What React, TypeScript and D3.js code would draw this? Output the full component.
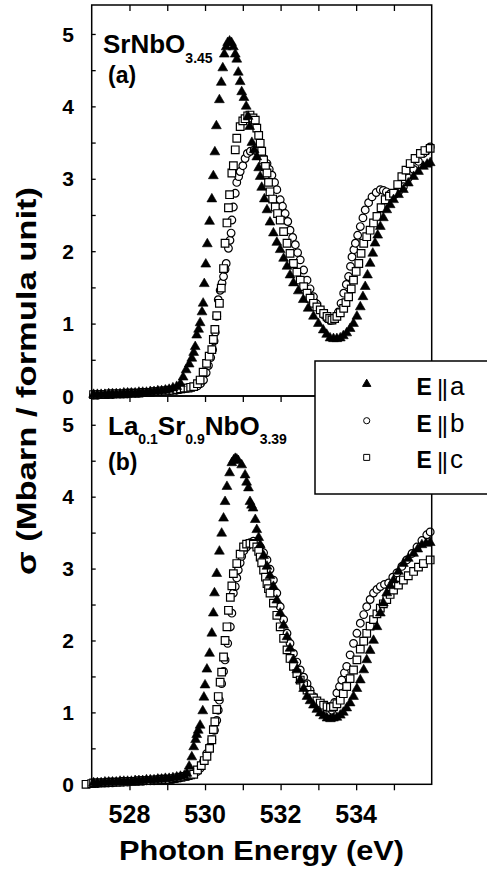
import React, { useEffect, useRef } from "react";
import * as d3 from "d3";

// photon energy / cross section pairs
type Pt = [number, number];

const flatE = [527.05, 527.15, 527.25, 527.35, 527.45, 527.55, 527.65, 527.75, 527.85, 527.95, 528.05, 528.15,
  528.25, 528.35, 528.45, 528.55, 528.65, 528.75, 528.85, 528.95, 529.05, 529.15, 529.25, 529.35];

const topFlatA = [0.02, 0.02, 0.02, 0.02, 0.03, 0.03, 0.03, 0.03, 0.04, 0.04, 0.04, 0.04, 0.05, 0.05, 0.05, 0.06,
  0.06, 0.07, 0.07, 0.08, 0.09, 0.11, 0.13, 0.17];
const topFlatB = [0.01, 0.01, 0.02, 0.02, 0.02, 0.02, 0.03, 0.03, 0.03, 0.03, 0.04, 0.04, 0.04, 0.05, 0.05, 0.05,
  0.06, 0.06, 0.06, 0.07, 0.07, 0.08, 0.08, 0.09];
const topFlatC = [0.02, 0.02, 0.02, 0.02, 0.03, 0.03, 0.03, 0.03, 0.03, 0.04, 0.04, 0.04, 0.04, 0.05, 0.05, 0.05,
  0.06, 0.06, 0.07, 0.07, 0.08, 0.08, 0.09, 0.1];
const botFlatA = [0.02, 0.02, 0.02, 0.03, 0.03, 0.03, 0.03, 0.04, 0.04, 0.04, 0.04, 0.05, 0.05, 0.05, 0.06, 0.06,
  0.06, 0.07, 0.07, 0.08, 0.08, 0.09, 0.1, 0.11];
const botFlatB = [0.01, 0.01, 0.02, 0.02, 0.02, 0.02, 0.03, 0.03, 0.03, 0.03, 0.04, 0.04, 0.04, 0.04, 0.05, 0.05,
  0.05, 0.06, 0.06, 0.06, 0.07, 0.07, 0.08, 0.09];
const botFlatC = [0.02, 0.02, 0.02, 0.02, 0.03, 0.03, 0.03, 0.03, 0.04, 0.04, 0.04, 0.04, 0.05, 0.05, 0.05, 0.05,
  0.06, 0.06, 0.07, 0.07, 0.07, 0.08, 0.09, 0.1];

// (a) SrNbO3.45
const topRiseA: Pt[] = [[529.42, 0.26], [529.5, 0.36], [529.58, 0.44], [529.65, 0.52], [529.7, 0.6], [529.74, 0.68],
  [529.78, 0.84], [529.83, 0.92], [529.87, 1.01], [529.92, 1.16], [529.95, 1.28], [529.98, 1.55], [530.02, 1.82],
  [530.06, 2.1], [530.12, 2.41], [530.18, 2.72], [530.22, 3.04], [530.26, 3.37], [530.3, 3.73], [530.38, 4.09],
  [530.43, 4.33], [530.47, 4.53], [530.51, 4.72], [530.56, 4.82], [530.6, 4.88], [530.65, 4.9], [530.7, 4.88],
  [530.75, 4.82], [530.8, 4.72], [530.84, 4.65], [530.88, 4.47], [530.93, 4.34], [530.97, 4.2], [531.03, 4.12],
  [531.09, 4.0], [531.14, 3.86], [531.18, 3.72], [531.24, 3.5], [531.3, 3.4], [531.37, 3.3], [531.42, 3.15],
  [531.46, 3.03], [531.5, 2.88], [531.57, 2.72], [531.64, 2.57], [531.72, 2.4], [531.81, 2.25], [531.9, 2.12],
  [531.99, 2.02], [532.08, 1.9], [532.17, 1.79], [532.25, 1.67], [532.34, 1.56], [532.47, 1.45], [532.6, 1.33],
  [532.73, 1.21], [532.87, 1.1], [533.0, 1.0], [533.13, 0.91], [533.22, 0.85], [533.31, 0.8], [533.4, 0.79],
  [533.49, 0.79], [533.58, 0.8], [533.66, 0.83], [533.75, 0.87], [533.84, 0.93], [533.93, 1.0], [534.02, 1.1],
  [534.11, 1.23], [534.18, 1.37], [534.24, 1.51], [534.3, 1.67], [534.37, 1.83], [534.44, 1.97], [534.5, 2.11],
  [534.57, 2.22], [534.64, 2.34], [534.72, 2.46], [534.81, 2.57], [534.9, 2.64], [534.99, 2.71], [535.12, 2.78],
  [535.25, 2.85], [535.38, 2.94], [535.52, 3.03], [535.65, 3.1], [535.78, 3.17], [535.88, 3.2], [535.96, 3.22]];

const topRiseB: Pt[] = [[529.45, 0.1], [529.55, 0.11], [529.65, 0.12], [529.72, 0.13], [529.8, 0.14], [529.88, 0.17],
  [529.96, 0.22], [530.03, 0.32], [530.09, 0.42], [530.15, 0.53], [530.2, 0.64], [530.24, 0.76], [530.27, 0.88],
  [530.31, 1.1], [530.35, 1.33], [530.4, 1.46], [530.45, 1.56], [530.49, 1.65], [530.53, 1.75], [530.56, 1.83],
  [530.62, 2.04], [530.66, 2.15], [530.69, 2.25], [530.71, 2.43], [530.75, 2.61], [530.8, 2.8], [530.84, 2.95],
  [530.89, 3.03], [530.93, 3.1], [531.0, 3.18], [531.06, 3.28], [531.12, 3.35], [531.2, 3.38], [531.3, 3.4],
  [531.38, 3.38], [531.46, 3.35], [531.55, 3.28], [531.64, 3.21], [531.7, 3.13], [531.77, 3.05], [531.84, 2.95],
  [531.9, 2.85], [531.99, 2.71], [532.05, 2.62], [532.12, 2.52], [532.19, 2.41], [532.25, 2.29], [532.32, 2.19],
  [532.39, 2.09], [532.45, 1.98], [532.52, 1.88], [532.61, 1.74], [532.7, 1.6], [532.78, 1.48], [532.87, 1.37],
  [532.96, 1.27], [533.05, 1.19], [533.14, 1.12], [533.23, 1.07], [533.32, 1.04], [533.4, 1.05], [533.47, 1.1],
  [533.53, 1.16], [533.6, 1.28], [533.67, 1.42], [533.74, 1.54], [533.8, 1.65], [533.85, 1.79], [533.89, 1.92],
  [533.94, 2.02], [533.98, 2.11], [534.04, 2.22], [534.11, 2.34], [534.18, 2.46], [534.24, 2.57], [534.33, 2.67],
  [534.42, 2.75], [534.53, 2.81], [534.64, 2.85], [534.72, 2.84], [534.8, 2.82], [534.9, 2.79], [534.99, 2.77],
  [535.12, 2.82], [535.25, 2.89], [535.38, 3.01], [535.52, 3.13], [535.65, 3.24], [535.78, 3.35], [535.88, 3.4],
  [535.96, 3.44]];

const topRiseC: Pt[] = [[529.45, 0.11], [529.55, 0.11], [529.62, 0.12], [529.7, 0.13], [529.8, 0.17], [529.87, 0.22],
  [529.95, 0.33], [530.04, 0.45], [530.11, 0.55], [530.18, 0.64], [530.22, 0.78], [530.26, 0.92], [530.31, 1.11],
  [530.38, 1.28], [530.43, 1.49], [530.49, 1.76], [530.53, 2.11], [530.58, 2.39], [530.62, 2.6], [530.65, 2.78],
  [530.71, 3.08], [530.75, 3.18], [530.8, 3.4], [530.84, 3.56], [530.93, 3.72], [531.0, 3.8], [531.06, 3.83],
  [531.13, 3.87], [531.19, 3.88], [531.27, 3.84], [531.33, 3.81], [531.37, 3.7], [531.42, 3.6], [531.46, 3.49],
  [531.5, 3.38], [531.55, 3.26], [531.6, 3.17], [531.64, 3.08], [531.68, 2.95], [531.72, 2.82], [531.79, 2.72],
  [531.86, 2.61], [531.92, 2.52], [531.99, 2.43], [532.08, 2.27], [532.17, 2.11], [532.25, 1.97], [532.34, 1.83],
  [532.43, 1.71], [532.52, 1.6], [532.61, 1.51], [532.7, 1.42], [532.78, 1.35], [532.87, 1.28], [532.96, 1.23],
  [533.05, 1.19], [533.14, 1.14], [533.23, 1.1], [533.3, 1.07], [533.36, 1.05], [533.43, 1.07], [533.49, 1.1],
  [533.58, 1.15], [533.67, 1.21], [533.73, 1.29], [533.8, 1.37], [533.87, 1.48], [533.93, 1.6], [534.0, 1.72],
  [534.07, 1.83], [534.13, 1.97], [534.2, 2.11], [534.28, 2.2], [534.37, 2.29], [534.46, 2.39], [534.55, 2.48],
  [534.66, 2.6], [534.77, 2.71], [534.88, 2.76], [534.99, 2.8], [535.1, 2.92], [535.21, 3.03], [535.32, 3.12],
  [535.43, 3.21], [535.56, 3.28], [535.7, 3.35], [535.82, 3.39], [535.96, 3.42]];

// (b) La0.1Sr0.9NbO3.39
const botRiseA: Pt[] = [[529.45, 0.12], [529.52, 0.15], [529.58, 0.25], [529.65, 0.38], [529.7, 0.52], [529.75, 0.62],
  [529.78, 0.69], [529.82, 0.75], [529.87, 0.82], [529.94, 1.02], [529.97, 1.21], [530.0, 1.38], [530.05, 1.6],
  [530.12, 1.82], [530.18, 2.1], [530.22, 2.38], [530.25, 2.66], [530.31, 2.93], [530.38, 3.24], [530.44, 3.49],
  [530.49, 3.7], [530.53, 3.93], [530.58, 4.14], [530.65, 4.33], [530.71, 4.47], [530.76, 4.51], [530.8, 4.53],
  [530.84, 4.52], [530.88, 4.5], [530.97, 4.44], [531.06, 4.3], [531.1, 4.2], [531.15, 4.12], [531.19, 3.93],
  [531.23, 3.88], [531.27, 3.84], [531.33, 3.68], [531.37, 3.54], [531.42, 3.43], [531.46, 3.33], [531.55, 3.18],
  [531.64, 3.03], [531.72, 2.9], [531.81, 2.75], [531.9, 2.56], [531.99, 2.38], [532.08, 2.21], [532.17, 2.05],
  [532.25, 1.89], [532.34, 1.73], [532.43, 1.59], [532.52, 1.45], [532.61, 1.33], [532.7, 1.22], [532.78, 1.16],
  [532.87, 1.1], [532.96, 1.04], [533.05, 0.99], [533.14, 0.95], [533.23, 0.92], [533.32, 0.91], [533.4, 0.92],
  [533.49, 0.93], [533.58, 0.96], [533.66, 1.0], [533.75, 1.06], [533.84, 1.13], [533.93, 1.22], [534.02, 1.33],
  [534.11, 1.45], [534.2, 1.59], [534.28, 1.73], [534.37, 1.86], [534.46, 2.0], [534.55, 2.19], [534.64, 2.38],
  [534.72, 2.52], [534.81, 2.66], [534.9, 2.76], [534.99, 2.84], [535.12, 2.96], [535.25, 3.07], [535.38, 3.14],
  [535.52, 3.21], [535.63, 3.27], [535.74, 3.33], [535.85, 3.35], [535.96, 3.36]];

const botRiseB: Pt[] = [[529.45, 0.1], [529.55, 0.11], [529.65, 0.13], [529.72, 0.15], [529.8, 0.18], [529.87, 0.22],
  [529.96, 0.32], [530.05, 0.43], [530.12, 0.52], [530.18, 0.62], [530.25, 0.75], [530.31, 0.89], [530.35, 1.03],
  [530.38, 1.17], [530.44, 1.4], [530.49, 1.57], [530.53, 1.73], [530.6, 1.96], [530.67, 2.19], [530.71, 2.38],
  [530.75, 2.66], [530.8, 2.75], [530.84, 2.87], [530.88, 2.98], [530.93, 3.08], [530.97, 3.17], [531.03, 3.25],
  [531.1, 3.3], [531.19, 3.36], [531.28, 3.38], [531.37, 3.35], [531.46, 3.3], [531.55, 3.22], [531.64, 3.12],
  [531.72, 2.99], [531.81, 2.84], [531.9, 2.66], [531.99, 2.47], [532.08, 2.29], [532.17, 2.1], [532.25, 1.96],
  [532.34, 1.82], [532.43, 1.7], [532.52, 1.59], [532.61, 1.49], [532.7, 1.4], [532.78, 1.31], [532.87, 1.22],
  [532.96, 1.15], [533.05, 1.08], [533.14, 1.04], [533.23, 1.01], [533.3, 1.01], [533.36, 1.03], [533.43, 1.14],
  [533.49, 1.27], [533.56, 1.36], [533.62, 1.45], [533.69, 1.55], [533.75, 1.64], [533.84, 1.8], [533.93, 1.96],
  [534.02, 2.1], [534.11, 2.24], [534.2, 2.36], [534.28, 2.47], [534.37, 2.57], [534.46, 2.66], [534.55, 2.71],
  [534.64, 2.75], [534.75, 2.78], [534.86, 2.8], [534.97, 2.88], [535.08, 2.94], [535.21, 3.03], [535.34, 3.12],
  [535.48, 3.21], [535.61, 3.3], [535.74, 3.39], [535.87, 3.47], [535.96, 3.51]];

const botRiseC: Pt[] = [[529.45, 0.11], [529.55, 0.12], [529.62, 0.13], [529.7, 0.14], [529.8, 0.2], [529.9, 0.26],
  [529.98, 0.33], [530.05, 0.39], [530.12, 0.5], [530.18, 0.62], [530.22, 0.76], [530.26, 0.87], [530.31, 1.04],
  [530.35, 1.22], [530.4, 1.42], [530.44, 1.56], [530.49, 1.77], [530.53, 2.0], [530.58, 2.19], [530.62, 2.42],
  [530.67, 2.6], [530.71, 2.76], [530.75, 2.93], [530.84, 3.07], [530.93, 3.2], [531.02, 3.3], [531.1, 3.34],
  [531.19, 3.35], [531.28, 3.34], [531.37, 3.3], [531.42, 3.24], [531.46, 3.16], [531.5, 3.08], [531.55, 2.98],
  [531.6, 2.88], [531.64, 2.79], [531.68, 2.72], [531.72, 2.66], [531.81, 2.52], [531.9, 2.35], [531.99, 2.19],
  [532.08, 2.03], [532.17, 1.87], [532.25, 1.75], [532.34, 1.64], [532.43, 1.54], [532.52, 1.45], [532.61, 1.38],
  [532.7, 1.31], [532.78, 1.25], [532.87, 1.2], [532.96, 1.16], [533.05, 1.13], [533.14, 1.1], [533.23, 1.08],
  [533.32, 1.07], [533.4, 1.08], [533.49, 1.12], [533.58, 1.17], [533.66, 1.26], [533.75, 1.36], [533.84, 1.47],
  [533.93, 1.59], [534.02, 1.73], [534.11, 1.88], [534.2, 1.99], [534.28, 2.1], [534.37, 2.2], [534.46, 2.29],
  [534.55, 2.37], [534.64, 2.45], [534.72, 2.51], [534.81, 2.57], [534.9, 2.64], [534.99, 2.7], [535.12, 2.77],
  [535.25, 2.84], [535.38, 2.9], [535.52, 2.96], [535.65, 3.02], [535.78, 3.07], [535.96, 3.12]];

// two extra squares at the very left edge of panel (b)
const botEdgeC: Pt[] = [[526.85, 0.0], [527.0, 0.01]];

const xTicks = [528, 529, 530, 531, 532, 533, 534, 535];
const xLabels = [528, 530, 532, 534];
const yTicks = [0, 0.5, 1, 1.5, 2, 2.5, 3, 3.5, 4, 4.5, 5];
const yLabels = [0, 1, 2, 3, 4, 5];
const legendItems = ["a", "b", "c"];

const W = 487, H = 871;
const font = "'Liberation Sans', Arial, Helvetica, sans-serif";

export default function App() {
  const ref = useRef<SVGSVGElement>(null);

  useEffect(() => {
    const svg = d3.select(ref.current);
    svg.selectAll("*").remove();

    const x = d3.scaleLinear().domain([527, 536]).range([91.7, 431.7]);
    const panels = [
      { y: d3.scaleLinear().domain([0, 5.4]).range([396, 5]),
        flat: [topFlatA, topFlatB, topFlatC], rise: [topRiseA, topRiseB, topRiseC], extraC: [] as Pt[] },
      { y: d3.scaleLinear().domain([0, 5.4]).range([784.3, 396]),
        flat: [botFlatA, botFlatB, botFlatC], rise: [botRiseA, botRiseB, botRiseC], extraC: botEdgeC },
    ];

    const tri = d3.symbol().type(d3.symbolTriangle).size(42)();
    const circ = d3.symbol().type(d3.symbolCircle).size(46)();
    const sq = d3.symbol().type(d3.symbolSquare).size(58)();

    panels.forEach((p, pi) => {
      const [y0, y1] = p.y.range();
      const g = svg.append("g");

      const series = p.rise.map((r, i) => flatE.map((e, k) => [e, p.flat[i][k]] as Pt).concat(r));
      series[2] = p.extraC.concat(series[2]);

      // draw order: circles, squares, triangles
      const styles = [
        { idx: 1, d: circ, fill: "#fff" },
        { idx: 2, d: sq, fill: "#fff" },
        { idx: 0, d: tri, fill: "#000" },
      ];
      styles.forEach(s => {
        g.append("g").selectAll("path")
          .data(series[s.idx])
          .enter().append("path")
          .attr("d", s.d)
          .attr("transform", d => "translate(" + x(d[0]) + "," + p.y(d[1]) + ")")
          .attr("fill", s.fill)
          .attr("stroke", "#000")
          .attr("stroke-width", s.idx === 0 ? 0.6 : 1.2);
      });

      // frame
      g.append("rect")
        .attr("x", x(527)).attr("y", y1)
        .attr("width", x(536) - x(527)).attr("height", y0 - y1)
        .attr("fill", "none").attr("stroke", "#000").attr("stroke-width", 1.5);

      // bottom ticks (outward)
      g.append("g")
        .attr("transform", "translate(0," + y0 + ")")
        .call(d3.axisBottom(x).tickValues(xTicks).tickSize(6).tickFormat(() => ""))
        .call(a => a.select(".domain").remove())
        .selectAll("line").attr("stroke-width", 1.3);

      // top ticks of upper panel (inward)
      if (pi === 0) {
        g.append("g")
          .attr("transform", "translate(0," + y1 + ")")
          .call(d3.axisBottom(x).tickValues(xTicks).tickSize(6).tickFormat(() => ""))
          .call(a => a.select(".domain").remove())
          .selectAll("line").attr("stroke-width", 1.3);
      }

      // left ticks (inward)
      g.append("g")
        .attr("transform", "translate(" + x(527) + ",0)")
        .call(d3.axisRight(p.y).tickValues(yTicks).tickSize(4).tickFormat(() => ""))
        .call(a => a.select(".domain").remove())
        .selectAll("line").attr("stroke-width", 1.3);

      g.selectAll("text.ylab")
        .data(yLabels)
        .enter().append("text")
        .attr("class", "ylab")
        .attr("x", 74)
        .attr("y", d => p.y(d))
        .attr("dy", "0.36em")
        .attr("text-anchor", "end")
        .style("font", "bold 21px " + font)
        .text(d => d);
    });

    // x tick labels
    svg.append("g").selectAll("text")
      .data(xLabels)
      .enter().append("text")
      .attr("x", d => x(d))
      .attr("y", 823)
      .attr("text-anchor", "middle")
      .style("font", "bold 25px " + font)
      .text(d => d);

    svg.append("text")
      .attr("x", 261.5).attr("y", 860)
      .attr("text-anchor", "middle")
      .attr("textLength", 285).attr("lengthAdjust", "spacingAndGlyphs")
      .style("font", "bold 27px " + font)
      .text("Photon Energy (eV)");

    svg.append("text")
      .attr("transform", "translate(36,381)rotate(-90)")
      .attr("text-anchor", "middle")
      .attr("textLength", 388).attr("lengthAdjust", "spacingAndGlyphs")
      .style("font", "bold 28px " + font)
      .text("σ (Mbarn / formula unit)");

    // panel labels
    const la = svg.append("text").attr("x", 103).attr("y", 53).style("font", "bold 26px " + font);
    la.append("tspan").text("SrNbO");
    la.append("tspan").attr("dy", 10).style("font-size", "14px").text("3.45");
    svg.append("text").attr("x", 108).attr("y", 83).style("font", "bold 23px " + font).text("(a)");

    const lb = svg.append("text").attr("x", 108).attr("y", 435).style("font", "bold 26px " + font);
    lb.append("tspan").text("La");
    lb.append("tspan").attr("dy", 9).style("font-size", "14px").text("0.1");
    lb.append("tspan").attr("dy", -9).text("Sr");
    lb.append("tspan").attr("dy", 9).style("font-size", "14px").text("0.9");
    lb.append("tspan").attr("dy", -9).text("NbO");
    lb.append("tspan").attr("dy", 9).style("font-size", "14px").text("3.39");
    svg.append("text").attr("x", 108).attr("y", 470).style("font", "bold 23px " + font).text("(b)");

    // legend
    const lg = svg.append("g");
    lg.append("rect")
      .attr("x", 315).attr("y", 361).attr("width", 180).attr("height", 133)
      .attr("fill", "#fff").attr("stroke", "#000").attr("stroke-width", 1.5);
    const legSyms = [
      { d: d3.symbol().type(d3.symbolTriangle).size(30)(), fill: "#000" },
      { d: d3.symbol().type(d3.symbolCircle).size(30)(), fill: "#fff" },
      { d: d3.symbol().type(d3.symbolSquare).size(36)(), fill: "#fff" },
    ];
    legendItems.forEach((k, i) => {
      const cy = 384 + i * 36.7;
      lg.append("path")
        .attr("d", legSyms[i].d)
        .attr("transform", "translate(366.7," + cy + ")")
        .attr("fill", legSyms[i].fill)
        .attr("stroke", "#000").attr("stroke-width", 1);
      lg.append("text").attr("x", 416.5).attr("y", cy + 11)
        .style("font", "bold 23px " + font).text("E");
      lg.append("text").attr("x", 437).attr("y", cy + 12)
        .attr("letter-spacing", -1.5)
        .style("font", "24px " + font).text("||");
      lg.append("text").attr("x", 450).attr("y", cy + 11)
        .style("font", "26px " + font).text(k);
    });
  }, []);

  return (
    <div style={{ position: "absolute", left: 0, top: 0 }}>
      <svg ref={ref} width={W} height={H} style={{ display: "block", background: "#fff" }} />
    </div>
  );
}
